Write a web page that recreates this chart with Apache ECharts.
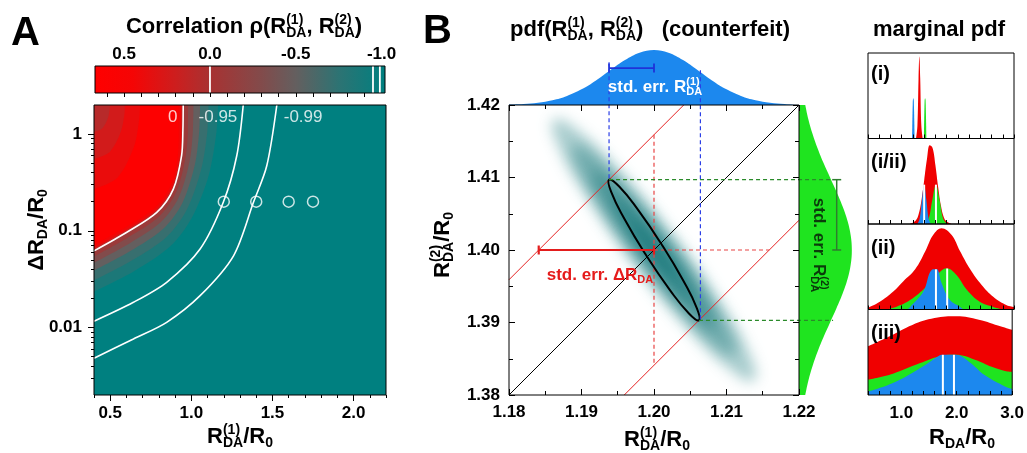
<!DOCTYPE html>
<html>
<head>
<meta charset="utf-8">
<script src="https://cdn.jsdelivr.net/npm/echarts@6/dist/echarts.min.js"></script>
<style>
  html, body { margin: 0; padding: 0; background: #fff; }
  #chart { width: 1027px; height: 453px; }
</style>
</head>
<body>
<div id="chart"></div>
<script>
const FONT = '"Liberation Sans", Arial, Helvetica, sans-serif';
const TEAL = '#008080';
const RED = '#f00000';
const GREEN = '#1fe41f';
const BLUE = '#1c88ee';

// ---------------- panel A : correlation map ----------------
const cbLabelValues = [0.5, 0, -0.5, -1];
const cbTickValues = [0.6, 0.5, 0.4, 0.3, 0.2, 0.1, 0, -0.1, -0.2, -0.3, -0.4, -0.5, -0.6, -0.7, -0.8, -0.9];
const cbMarks = [0, -0.95, -0.99];
const xMajorA = [0.5, 1.0, 1.5, 2.0];
const yMajorA = [0.01, 0.1, 1];
const yMinorA = [0.003, 0.004, 0.005, 0.006, 0.007, 0.008, 0.009,
                 0.02, 0.03, 0.04, 0.05, 0.06, 0.07, 0.08, 0.09,
                 0.2, 0.3, 0.4, 0.5, 0.6, 0.7, 0.8, 0.9];

// labelled contour lines (R/R0, dR/R0)
const contour0 = [[0.4, 0.062], [0.6, 0.096], [0.787, 0.155], [0.889, 0.27], [0.94, 0.6], [0.948, 1.1], [0.95, 2]];
const contour95 = [[0.4, 0.0116], [0.643, 0.0182], [0.848, 0.0293], [1.054, 0.0647], [1.197, 0.197], [1.28, 0.597], [1.32, 2]];
const contour99 = [[0.4, 0.0048], [0.643, 0.0076], [0.848, 0.0113], [1.054, 0.0213], [1.26, 0.0551], [1.383, 0.197], [1.465, 0.47], [1.527, 2]];

// estimated iso-lines of the colour field (filled towards the top-left)
const fillLevels = [-0.9, -0.8, -0.6, -0.4, -0.2, 0, 0.3, 0.55];
const fillContours = [
  [[0.4, 0.0234], [0.649, 0.0383], [0.87, 0.069], [1.002, 0.1353], [1.107, 0.374], [1.155, 1.05], [1.165, 2]],
  [[0.4, 0.0306], [0.636, 0.0494], [0.847, 0.0861], [0.971, 0.1637], [1.06, 0.4266], [1.099, 1.072], [1.106, 2]],
  [[0.4, 0.0388], [0.624, 0.0617], [0.827, 0.105], [0.944, 0.193], [1.021, 0.476], [1.049, 1.089], [1.054, 2]],
  [[0.4, 0.0467], [0.616, 0.0736], [0.811, 0.1222], [0.922, 0.221], [0.989, 0.521], [1.01, 1.103], [1.013, 2]],
  [[0.4, 0.0543], [0.608, 0.0849], [0.798, 0.1386], [0.904, 0.2455], [0.963, 0.56], [0.979, 1.116], [0.98, 2]],
  contour0,
  [[0.4, 0.0659], [0.599, 0.1017], [0.782, 0.163], [0.882, 0.282], [0.931, 0.609], [0.938, 1.127], [0.938, 2]],
  [[0.4, 0.071], [0.595, 0.109], [0.775, 0.173], [0.873, 0.297], [0.918, 0.629], [0.922, 1.127], [0.921, 2]]
];
// darker corner at small R / large dR
const cornerLevels = [0.45, 0.3, 0.15];
const cornerContours = [
  [[0.4, 0.27], [0.545, 0.354], [0.647, 0.743], [0.679, 1.436], [0.684, 2]],
  [[0.4, 0.551], [0.499, 0.658], [0.566, 1.061], [0.588, 1.625], [0.591, 2]],
  [[0.4, 1.049], [0.452, 1.148], [0.486, 1.464], [0.497, 1.818], [0.499, 2]]
];
const circlePoints = [[1.2, 0.2], [1.4, 0.2], [1.6, 0.2], [1.75, 0.2]];
const contourLabelPos = [[0.885, 1.5], [1.164, 1.5], [1.689, 1.5]];
const contourLabelText = ['0', '-0.95', '-0.99'];

// ---------------- panel B : joint pdf ----------------
const pdfCenter = [1.20, 1.40];
const pdfShape = [[1.1931, 1.4090], [1.19468, 1.40829], [1.19768, 1.40537], [1.20131, 1.40101],
                  [1.20458, 1.39637], [1.20664, 1.39271], [1.2069, 1.3910], [1.20532, 1.39171],
                  [1.20232, 1.39463], [1.19869, 1.39899], [1.19542, 1.40363], [1.19336, 1.40729]];
const pdfLevels = [2.0, 1.6, 1.2, 0.8, 0.45];
const ellipse1 = [[1.1938, 1.4097], [1.1952, 1.40875], [1.19785, 1.40546], [1.2011, 1.4007],
                  [1.20405, 1.39576], [1.20592, 1.39195], [1.2062, 1.3903], [1.20482, 1.39125],
                  [1.20215, 1.39454], [1.1989, 1.3993], [1.19595, 1.40424], [1.19408, 1.40805]];
const diagLines = [[1.18, 1.38, 1.22, 1.42]];
const bandLines = [[1.18, 1.3959, 1.2041, 1.42], [1.1959, 1.38, 1.22, 1.4041]];
const blueDash = [[1.1938, 1.4259, 1.1938, 1.4097], [1.2064, 1.4248, 1.2064, 1.3903]];
const greenDash = [[1.1938, 1.4097, 1.2247, 1.4097], [1.2062, 1.3903, 1.2247, 1.3903]];
const redDash = [[1.20, 1.4159, 1.20, 1.3841], [1.20, 1.40, 1.2159, 1.40]];
const errBlue = [[1.1938, 1.4251, 1.20, 1.4251]];
const errRed = [[1.1841, 1.40, 1.20, 1.40]];
const errGreen = [[1.2252, 1.4097, 1.2252, 1.40]];

const margX = [1.18, 1.182, 1.184, 1.186, 1.188, 1.19, 1.192, 1.194, 1.196, 1.198, 1.20,
               1.202, 1.204, 1.206, 1.208, 1.21, 1.212, 1.214, 1.216, 1.218, 1.22];
const margR1 = [0.007, 0.017, 0.04, 0.085, 0.163, 0.284, 0.446, 0.636, 0.817, 0.951, 1,
                0.951, 0.817, 0.636, 0.446, 0.284, 0.163, 0.085, 0.04, 0.017, 0.007];
const margY = ['1.380', '1.382', '1.384', '1.386', '1.388', '1.390', '1.392', '1.394', '1.396', '1.398', '1.400',
               '1.402', '1.404', '1.406', '1.408', '1.410', '1.412', '1.414', '1.416', '1.418', '1.420'];
const margR2 = [0.119, 0.178, 0.257, 0.353, 0.465, 0.588, 0.711, 0.826, 0.919, 0.979, 1,
                0.979, 0.919, 0.826, 0.711, 0.588, 0.465, 0.353, 0.257, 0.178, 0.119];

// ---------------- marginal pdf panels ----------------
const p1Red = [[1.255, 0], [1.28, 0.15], [1.30, 0.7], [1.315, 0.96], [1.33, 0.7], [1.35, 0.15], [1.375, 0]];
const p1Green = [[1.395, 0], [1.408, 0.44], [1.417, 0.47], [1.426, 0.44], [1.439, 0]];
const p1Blue = [[1.185, 0], [1.198, 0.44], [1.207, 0.47], [1.216, 0.44], [1.229, 0]];
const p1White = [];

const p2Red = [[1.15, 0], [1.25, 0.04], [1.3, 0.11], [1.35, 0.27], [1.4, 0.51], [1.45, 0.76], [1.5, 0.92],
               [1.55, 0.89], [1.6, 0.69], [1.65, 0.43], [1.7, 0.21], [1.75, 0.08], [1.8, 0.03], [1.9, 0]];
const p2Green = [[1.41, 0], [1.48, 0.06], [1.545, 0.28], [1.61, 0.46], [1.675, 0.28], [1.74, 0.06], [1.81, 0]];
const p2Blue = [[1.28, 0], [1.32, 0.06], [1.36, 0.28], [1.40, 0.46], [1.44, 0.28], [1.48, 0.06], [1.52, 0]];
const p2White = [[1.40, 0.46], [1.61, 0.46]];

const p3Red = [[0.4, 0.02], [0.61, 0.09], [0.85, 0.21], [1.03, 0.33], [1.24, 0.47], [1.42, 0.68], [1.56, 0.87],
               [1.71, 0.95], [1.89, 0.87], [2.04, 0.68], [2.22, 0.47], [2.42, 0.29], [2.63, 0.15], [2.87, 0.05], [3.0, 0.03]];
const p3Green = [[0.7, 0], [0.9, 0.03], [1.15, 0.11], [1.445, 0.27], [1.6, 0.38], [1.74, 0.47], [1.81, 0.48],
                 [1.98, 0.40], [2.16, 0.23], [2.39, 0.09], [2.63, 0.03], [2.8, 0]];
const p3Blue = [[1.1, 0], [1.15, 0.03], [1.385, 0.21], [1.53, 0.46], [1.61, 0.47], [1.63, 0.47],
                [1.71, 0.31], [1.86, 0.11], [2.04, 0.03], [2.1, 0]];
const p3White = [[1.61, 0.47], [1.81, 0.48]];

const p4Red = [[0.4, 0.57], [0.8, 0.69], [1.2, 0.82], [1.6, 0.9], [2.0, 0.92], [2.4, 0.88], [2.8, 0.8], [3.0, 0.76]];
const p4Green = [[0.4, 0.18], [0.85, 0.25], [1.33, 0.37], [1.74, 0.46], [1.98, 0.47], [2.34, 0.41], [2.63, 0.33], [2.87, 0.28], [3.0, 0.27]];
const p4Blue = [[0.4, 0.04], [0.85, 0.14], [1.33, 0.31], [1.68, 0.46], [1.74, 0.47], [1.98, 0.47], [2.22, 0.39], [2.51, 0.23], [2.87, 0.10], [3.0, 0.07]];
const p4White = [[1.75, 0.47], [1.95, 0.47]];

const panelNames = ['(i)', '(i/ii)', '(ii)', '(iii)'];
const panels = [
  [p1Red, p1Green, p1Blue, p1White],
  [p2Red, p2Green, p2Blue, p2White],
  [p3Red, p3Green, p3Blue, p3White],
  [p4Red, p4Green, p4Blue, p4White]
];

// ---------------- helpers ----------------
const corrPalette = [
  [0.67, [255, 0, 0]], [0.45, [245, 5, 5]], [0.2, [205, 30, 30]], [0, [168, 50, 50]],
  [-0.3, [130, 75, 75]], [-0.5, [100, 95, 95]], [-0.75, [45, 115, 115]], [-1.02, [0, 128, 128]]
];
function corrColor(v) {
  for (let i = 0; i < corrPalette.length - 1; i++) {
    const [v0, c0] = corrPalette[i], [v1, c1] = corrPalette[i + 1];
    if (v <= v0 && v >= v1) {
      const t = (v0 - v) / (v0 - v1);
      return 'rgb(' + c0.map((c, j) => Math.round(c + (c1[j] - c) * t)).join(',') + ')';
    }
  }
  return v > 0 ? 'rgb(255,0,0)' : TEAL;
}
const isMult = (v, step) => Math.abs(v / step - Math.round(v / step)) < 1e-6;

const measure = document.createElement('canvas').getContext('2d');
function textWidth(s, size, weight) {
  measure.font = weight + ' ' + size + 'px ' + FONT;
  return measure.measureText(s).width;
}
function txt(s, x, y, size, color, weight) {
  return {
    type: 'text', x: x, y: y, z: 100, silent: true,
    style: { text: s, font: weight + ' ' + size + 'px ' + FONT, fill: color,
             textAlign: 'left', verticalAlign: 'middle', textVerticalAlign: 'middle' }
  };
}
// parts: [main, sup, sub]
function mathText(parts, x, y, size, color, opt) {
  opt = opt || {};
  const weight = opt.weight || 'bold';
  const small = Math.round(size * 0.62);
  const kids = [];
  let cx = 0;
  parts.forEach(([main, sup, sub]) => {
    if (main) { kids.push(txt(main, cx, 0, size, color, weight)); cx += textWidth(main, size, weight); }
    let w = 0;
    if (sup) { kids.push(txt(sup, cx, -size * 0.32, small, color, weight)); w = textWidth(sup, small, weight); }
    if (sub) { kids.push(txt(sub, cx, size * 0.3, small, color, weight)); w = Math.max(w, textWidth(sub, small, weight)); }
    cx += w;
  });
  const shift = opt.align === 'left' ? 0 : -cx / 2;
  kids.forEach(k => { k.x += shift; });
  return { type: 'group', x: x, y: y, rotation: opt.rotation || 0, children: kids };
}

function segments(xi, yi, segs, style, z) {
  return {
    type: 'custom', xAxisIndex: xi, yAxisIndex: yi, data: segs, silent: true, z: z || 4,
    renderItem: (p, api) => {
      const a = api.coord([api.value(0), api.value(1)]);
      const b = api.coord([api.value(2), api.value(3)]);
      return { type: 'line', shape: { x1: a[0], y1: a[1], x2: b[0], y2: b[1] }, style: Object.assign({}, style) };
    }
  };
}
function errorBars(xi, yi, segs, color, width) {
  return {
    type: 'custom', xAxisIndex: xi, yAxisIndex: yi, data: segs, silent: true, z: 6,
    renderItem: (p, api) => {
      const a = api.coord([api.value(0), api.value(1)]);
      const b = api.coord([api.value(2), api.value(3)]);
      const dx = b[0] - a[0], dy = b[1] - a[1], len = Math.hypot(dx, dy) || 1;
      const nx = -dy / len * 4.5, ny = dx / len * 4.5;
      const st = { stroke: color, lineWidth: width };
      return {
        type: 'group', children: [
          { type: 'line', shape: { x1: a[0], y1: a[1], x2: b[0], y2: b[1] }, style: Object.assign({}, st) },
          { type: 'line', shape: { x1: a[0] - nx, y1: a[1] - ny, x2: a[0] + nx, y2: a[1] + ny }, style: Object.assign({}, st) },
          { type: 'line', shape: { x1: b[0] - nx, y1: b[1] - ny, x2: b[0] + nx, y2: b[1] + ny }, style: Object.assign({}, st) }
        ]
      };
    }
  };
}
function areaLine(xi, yi, data, color, z, extra) {
  return Object.assign({
    type: 'line', xAxisIndex: xi, yAxisIndex: yi, data: data, smooth: 0.4, symbol: 'none', silent: true,
    lineStyle: { width: 0 }, areaStyle: { color: color, opacity: 1 }, z: z || 2
  }, extra || {});
}

const tickLabel = { fontSize: 17, fontWeight: 'bold', color: '#000', fontFamily: FONT };
const black = { color: '#000' };

// ---------------- layout ----------------
const frame = { show: true, borderColor: '#000', borderWidth: 1, backgroundColor: 'transparent', z: 10 };
const grid = [
  Object.assign({ left: 94, top: 105, width: 292, height: 290 }, frame),       // 0 A
  Object.assign({ left: 95, top: 66, width: 290, height: 27 }, frame),         // 1 colour bar
  Object.assign({ left: 509, top: 105, width: 290, height: 290 }, frame),      // 2 B
  { left: 509, top: 45, width: 290, height: 60 },                              // 3 B top marginal
  { left: 799, top: 105, width: 56, height: 290 },                             // 4 B right marginal
  Object.assign({ left: 868, top: 53, width: 146, height: 85.5 }, frame),      // 5 (i)
  Object.assign({ left: 868, top: 138.5, width: 146, height: 85.5 }, frame),   // 6 (i/ii)
  Object.assign({ left: 868, top: 224, width: 146, height: 85.5 }, frame),     // 7 (ii)
  Object.assign({ left: 868, top: 309.5, width: 146, height: 85.5 }, frame)    // 8 (iii)
];

const noLine = { show: false };
const noSplit = { show: false };
const xAxis = [
  // 0,1 : panel A
  { gridIndex: 0, type: 'value', position: 'bottom', min: 0.4, max: 2.2, interval: 0.1,
    axisLine: noLine, splitLine: noSplit, axisTick: { length: 3, lineStyle: black },
    axisLabel: Object.assign({ margin: 10, formatter: v => isMult(v, 0.5) ? v.toFixed(1) : '' }, tickLabel) },
  { gridIndex: 0, type: 'value', position: 'bottom', min: 0.4, max: 2.2,
    axisLine: noLine, splitLine: noSplit, axisTick: { length: 6, lineStyle: black, customValues: xMajorA },
    axisLabel: { show: false } },
  // 2 : colour bar
  { gridIndex: 1, type: 'value', position: 'top', inverse: true, min: -1.02, max: 0.67,
    axisLine: noLine, splitLine: noSplit, z: 10,
    axisTick: { inside: true, length: 4, lineStyle: black, customValues: cbTickValues },
    axisLabel: Object.assign({ margin: 3, customValues: cbLabelValues, formatter: v => v.toFixed(1) }, tickLabel) },
  // 3,4 : panel B
  { gridIndex: 2, type: 'value', position: 'bottom', min: 1.18, max: 1.22, interval: 0.01, z: 10,
    axisLine: noLine, splitLine: noSplit, axisTick: { inside: true, length: 6, lineStyle: black },
    minorTick: { show: true, splitNumber: 2, length: 4, lineStyle: black },
    axisLabel: Object.assign({ margin: 9, formatter: v => v.toFixed(2) }, tickLabel) },
  { gridIndex: 2, type: 'value', position: 'top', min: 1.18, max: 1.22, interval: 0.01, z: 10,
    axisLine: noLine, splitLine: noSplit, axisTick: { inside: true, length: 6, lineStyle: black },
    minorTick: { show: true, splitNumber: 2, length: 4, lineStyle: black }, axisLabel: { show: false } },
  // 5 : top marginal
  { gridIndex: 3, type: 'value', min: 1.18, max: 1.22, show: false },
  // 6 : right marginal
  { gridIndex: 4, type: 'value', min: 0, max: 1.06, show: false }
];
const yAxis = [
  // 0,1 : panel A (log)
  { gridIndex: 0, type: 'log', logBase: 10, position: 'left', min: 0.002, max: 2,
    axisLine: noLine, splitLine: noSplit, minorSplitLine: noSplit,
    axisTick: { length: 6, lineStyle: black, customValues: yMajorA },
    axisLabel: Object.assign({ margin: 12, customValues: yMajorA, formatter: v => String(v) }, tickLabel) },
  { gridIndex: 0, type: 'log', logBase: 10, position: 'left', min: 0.002, max: 2,
    axisLine: noLine, splitLine: noSplit,
    axisTick: { length: 3, lineStyle: black, customValues: yMinorA }, axisLabel: { show: false } },
  // 2 : colour bar
  { gridIndex: 1, type: 'value', min: 0, max: 1, show: false },
  // 3,4 : panel B
  { gridIndex: 2, type: 'value', position: 'left', min: 1.38, max: 1.42, interval: 0.01, z: 10,
    axisLine: noLine, splitLine: noSplit, axisTick: { inside: true, length: 6, lineStyle: black },
    minorTick: { show: true, splitNumber: 2, length: 4, lineStyle: black },
    axisLabel: Object.assign({ margin: 9, formatter: v => v.toFixed(2) }, tickLabel) },
  { gridIndex: 2, type: 'value', position: 'right', min: 1.38, max: 1.42, interval: 0.01, z: 10,
    axisLine: noLine, splitLine: noSplit, axisTick: { inside: true, length: 6, lineStyle: black },
    minorTick: { show: true, splitNumber: 2, length: 4, lineStyle: black }, axisLabel: { show: false } },
  // 5 : top marginal
  { gridIndex: 3, type: 'value', min: 0, max: 1.09, show: false },
  // 6 : right marginal
  { gridIndex: 4, type: 'category', data: margY, boundaryGap: false, show: false }
];
// 7..10 : marginal pdf panels
for (let i = 0; i < 4; i++) {
  xAxis.push({
    gridIndex: 5 + i, type: 'value', position: 'bottom', min: 0.4, max: 3.0, interval: 0.2, z: 10,
    axisLine: noLine, splitLine: noSplit, axisTick: { inside: true, length: 4, lineStyle: black },
    axisLabel: i === 3
      ? Object.assign({ margin: 10, formatter: v => isMult(v, 1) ? v.toFixed(1) : '' }, tickLabel)
      : { show: false }
  });
  yAxis.push({ gridIndex: 5 + i, type: 'value', min: 0, max: 1, show: false });
}

// ---------------- series ----------------
const series = [];

// panel A background, filled iso-bands, contours
series.push({
  type: 'custom', xAxisIndex: 0, yAxisIndex: 0, data: [[1, 0.1]], silent: true, z: 1,
  renderItem: p => ({ type: 'rect', shape: { x: p.coordSys.x, y: p.coordSys.y, width: p.coordSys.width, height: p.coordSys.height }, style: { fill: TEAL } })
});
fillContours.forEach((pts, i) => {
  const next = i < fillLevels.length - 1 ? fillLevels[i + 1] : 0.69;
  const c = corrColor((fillLevels[i] + next) / 2);
  series.push(areaLine(0, 0, pts, c, 2, { smooth: 0.3, areaStyle: { color: c, opacity: 1, origin: 'end' } }));
});
cornerContours.forEach((pts, i) => {
  const c = corrColor(cornerLevels[i] - 0.07);
  series.push(areaLine(0, 0, pts, c, 2, { smooth: 0.3, areaStyle: { color: c, opacity: 1, origin: 'end' } }));
});
[contour0, contour95, contour99].forEach(d => series.push({
  type: 'line', xAxisIndex: 0, yAxisIndex: 0, data: d, smooth: 0.3, symbol: 'none', silent: true,
  lineStyle: { color: '#fff', width: 1.6 }, z: 4
}));
series.push({
  type: 'scatter', xAxisIndex: 0, yAxisIndex: 0, data: circlePoints, symbol: 'circle', symbolSize: 11, silent: true,
  itemStyle: { color: 'rgba(0,0,0,0)', borderColor: '#fff', borderWidth: 1.5 }, z: 5
});
series.push({
  type: 'scatter', xAxisIndex: 0, yAxisIndex: 0, symbolSize: 0, silent: true, z: 5,
  data: contourLabelPos.map((p, i) => ({ value: p, name: contourLabelText[i] })),
  label: { show: true, position: 'inside', formatter: '{b}', color: '#fff', fontSize: 17, fontFamily: FONT }
});

// colour bar
const cbMin = -1.02, cbMax = 0.67;
series.push({
  type: 'custom', xAxisIndex: 2, yAxisIndex: 2, data: [[0, 0]], silent: true, z: 2,
  renderItem: (p, api) => {
    const a = api.coord([cbMax, 1]), b = api.coord([cbMin, 0]);
    return {
      type: 'rect', shape: { x: a[0], y: a[1], width: b[0] - a[0], height: b[1] - a[1] },
      style: { fill: { type: 'linear', x: 0, y: 0, x2: 1, y2: 0,
        colorStops: corrPalette.map(s => ({ offset: (cbMax - s[0]) / (cbMax - cbMin), color: 'rgb(' + s[1].join(',') + ')' })) } }
    };
  }
});
series.push(segments(2, 2, cbMarks.map(v => [v, 0, v, 1]), { stroke: '#fff', lineWidth: 1.8 }, 4));

// panel B : blurred joint pdf
const SHIFT = 4000;
const PDF_INK = '#00696d';
series.push({
  type: 'custom', xAxisIndex: 3, yAxisIndex: 3, data: pdfLevels.map(k => [k, k]), silent: true, z: 2,
  renderItem: (p, api) => {
    const k = api.value(0);
    const pts = pdfShape.map(q => {
      const c = api.coord([pdfCenter[0] + k * (q[0] - pdfCenter[0]), pdfCenter[1] + k * (q[1] - pdfCenter[1])]);
      return [c[0] + SHIFT, c[1]];
    });
    return {
      type: 'polygon', shape: { points: pts, smooth: 0.5 },
      style: { fill: PDF_INK, opacity: 0.34, shadowBlur: 14, shadowColor: PDF_INK, shadowOffsetX: -SHIFT }
    };
  }
});
series.push(segments(3, 3, diagLines, { stroke: '#000', lineWidth: 1 }, 3));
series.push(segments(3, 3, bandLines, { stroke: '#e62222', lineWidth: 1 }, 3));
series.push(segments(3, 3, redDash, { stroke: '#e84545', lineWidth: 1.2, lineDash: [4, 3] }, 4));
series.push(segments(3, 3, blueDash, { stroke: '#2b3fe6', lineWidth: 1.2, lineDash: [4, 3] }, 7));
series.push(segments(3, 3, greenDash, { stroke: '#2a8a2a', lineWidth: 1.2, lineDash: [4, 3] }, 7));
series.push({
  type: 'custom', xAxisIndex: 3, yAxisIndex: 3, data: [[pdfCenter[0], pdfCenter[1]]], silent: true, z: 6,
  renderItem: (p, api) => ({
    type: 'polygon', shape: { points: ellipse1.map(q => api.coord(q)), smooth: 0.5 },
    style: { fill: 'none', stroke: '#000', lineWidth: 2 }
  })
});
series.push(errorBars(3, 3, errRed, '#e31d1d', 2.2));
series.push(errorBars(3, 3, errBlue, '#1f32d8', 1.8));
series.push(errorBars(3, 3, errGreen, '#2f7d2f', 1.5));

// panel B marginals
series.push(areaLine(5, 5, margX.map((x, i) => [x, margR1[i]]), BLUE, 2));
series.push(areaLine(6, 6, margR2, GREEN, 2));

// marginal pdf panels
panels.forEach((pn, i) => {
  const xi = 7 + i, yi = 7 + i;
  series.push(areaLine(xi, yi, pn[0], RED, 2));
  series.push(areaLine(xi, yi, pn[1], GREEN, 3));
  series.push(areaLine(xi, yi, pn[2], BLUE, 4));
  if (pn[3].length) series.push(segments(xi, yi, pn[3].map(w => [w[0], 0, w[0], w[1]]), { stroke: '#fff', lineWidth: 2 }, 5));
});

// ---------------- texts ----------------
const HALF_PI = Math.PI / 2;
const graphics = [
  mathText([['A']], 11, 34, 40, '#000', { align: 'left' }),
  mathText([['B']], 423, 32, 40, '#000', { align: 'left' }),
  mathText([['Correlation ρ(R', '(1)', 'DA'], [', R', '(2)', 'DA'], [')']], 244, 27, 22, '#000'),
  mathText([['pdf(R', '(1)', 'DA'], [', R', '(2)', 'DA'], [')   (counterfeit)']], 650, 30, 22, '#000'),
  mathText([['marginal pdf']], 939, 30, 22, '#000'),
  mathText([['R', '(1)', 'DA'], ['/R', null, '0']], 240, 437, 22, '#000'),
  mathText([['ΔR', null, 'DA'], ['/R', null, '0']], 37, 230, 22, '#000', { rotation: HALF_PI }),
  mathText([['R', '(1)', 'DA'], ['/R', null, '0']], 657, 440, 22, '#000'),
  mathText([['R', '(2)', 'DA'], ['/R', null, '0']], 443, 245, 22, '#000', { rotation: HALF_PI }),
  mathText([['R', null, 'DA'], ['/R', null, '0']], 962, 438, 22, '#000'),
  mathText([['std. err. R', '(1)', 'DA']], 655, 87, 17, '#fff'),
  mathText([['std. err. ΔR', null, 'DA']], 600, 275, 17, '#e51b1b'),
  mathText([['std. err. R', '(2)', 'DA']], 819, 245, 17, '#0b3b0b', { rotation: -HALF_PI })
];
const panelLabelY = [74, 162, 248, 333];
panelNames.forEach((n, i) => graphics.push(mathText([[n]], 871, panelLabelY[i], 20, '#000', { align: 'left' })));

const chart = echarts.init(document.getElementById('chart'), null, { renderer: 'canvas' });
chart.setOption({
  animation: false,
  backgroundColor: '#fff',
  textStyle: { fontFamily: FONT },
  grid: grid,
  xAxis: xAxis,
  yAxis: yAxis,
  series: series,
  graphic: { elements: graphics }
});
</script>
</body>
</html>
